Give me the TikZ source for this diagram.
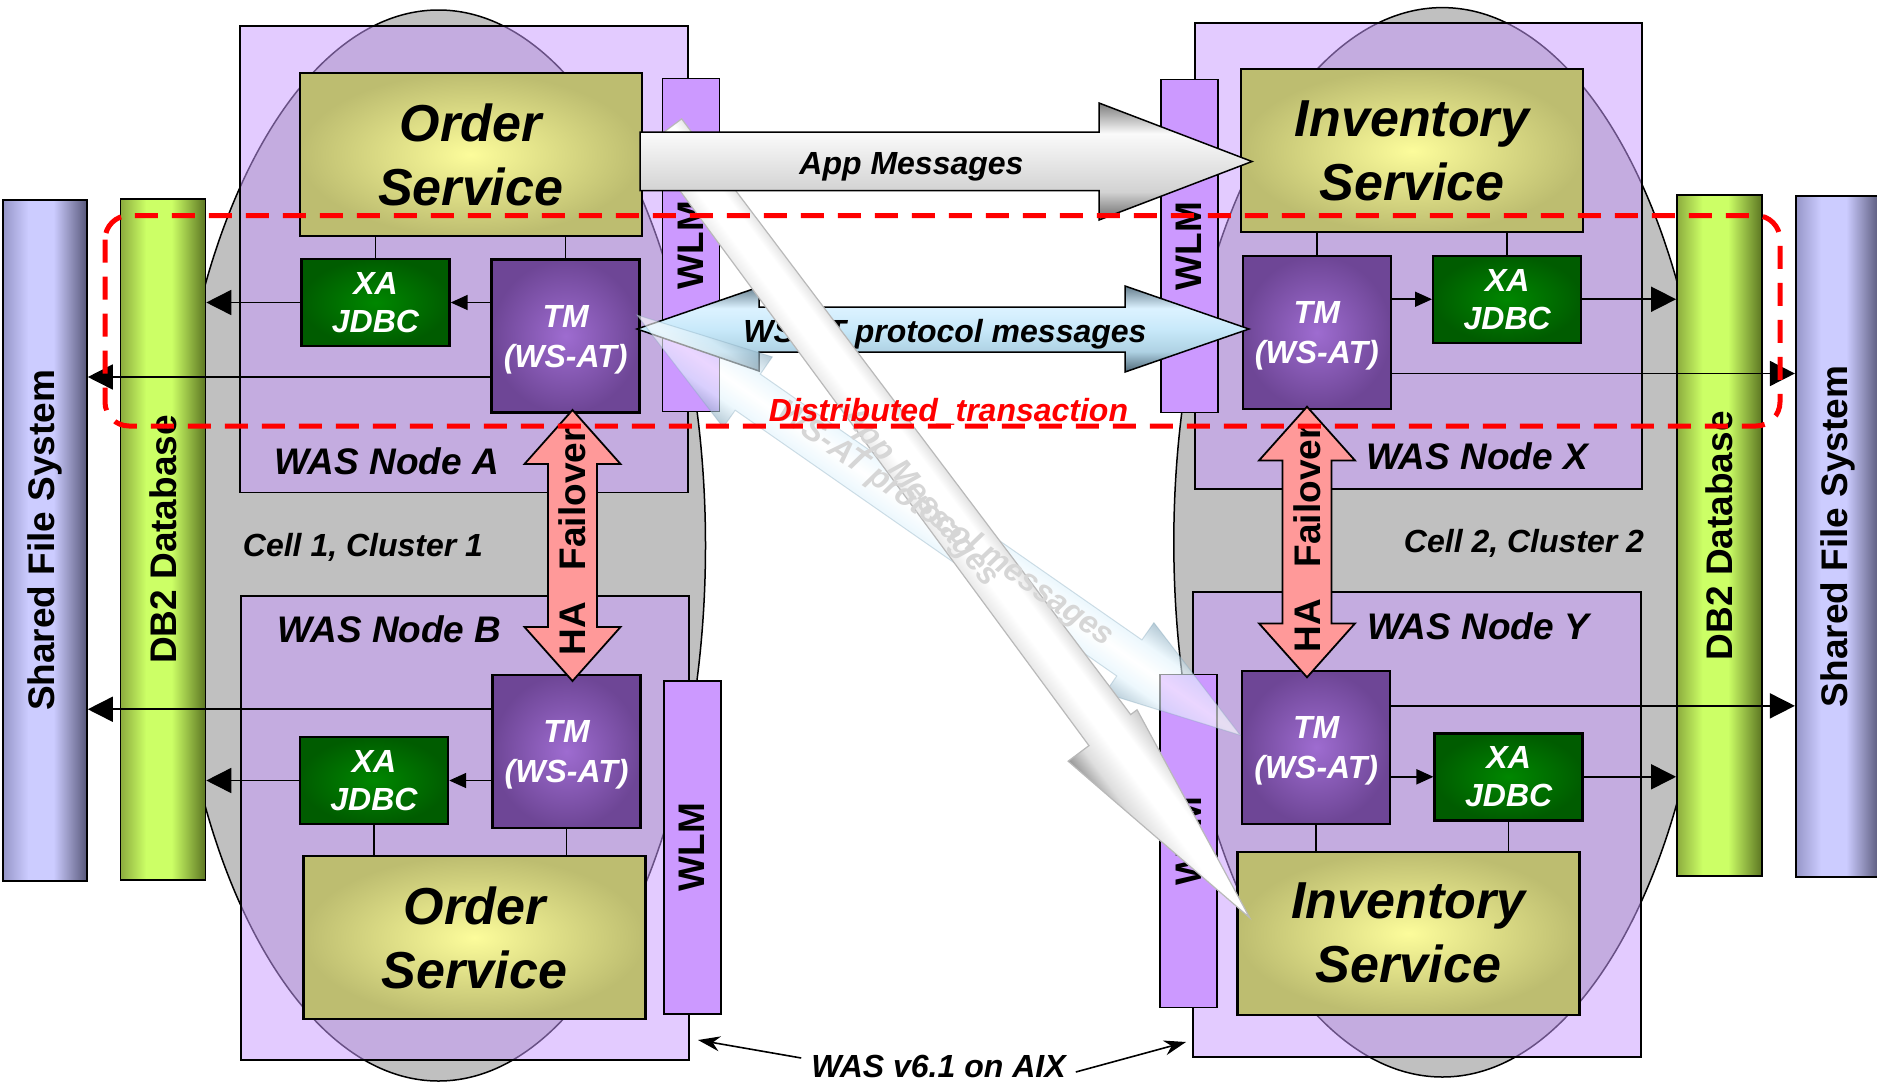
\documentclass[tikz,border=0pt]{standalone}
\usepackage{fontspec}
\setmainfont{Liberation Sans}
\usetikzlibrary{arrows.meta}

% palette
\definecolor{cellgray}{RGB}{192,192,192}
\definecolor{nodelav}{RGB}{201,155,255}
\definecolor{svcin}{RGB}{252,252,155}
\definecolor{svcout}{RGB}{189,189,112}
\definecolor{tmin}{RGB}{158,108,208}
\definecolor{tmout}{RGB}{110,70,150}
\definecolor{xain}{RGB}{0,135,0}
\definecolor{xaout}{RGB}{0,92,0}
\definecolor{wlmfill}{RGB}{204,153,255}
\definecolor{hafill}{RGB}{255,153,153}
\definecolor{dbA}{RGB}{140,172,62}
\definecolor{dbB}{RGB}{204,255,102}
\definecolor{dbC}{RGB}{92,118,34}
\definecolor{fsA}{RGB}{150,150,200}
\definecolor{fsB}{RGB}{204,204,255}
\definecolor{fsC}{RGB}{88,88,122}
\definecolor{apTop}{RGB}{125,125,125}
\definecolor{apBot}{RGB}{105,105,105}
\definecolor{apLow}{RGB}{210,210,210}
\definecolor{apHi}{RGB}{250,250,250}
\definecolor{wsTop}{RGB}{100,125,140}
\definecolor{wsBot}{RGB}{80,105,120}
\definecolor{wsLow}{RGB}{175,210,228}
\definecolor{wsMid}{RGB}{200,233,250}
\definecolor{wsHi}{RGB}{220,242,255}
\definecolor{dgEdge}{RGB}{150,150,150}
\definecolor{dgLow}{RGB}{222,222,222}
\definecolor{dgTop}{RGB}{205,205,205}
\definecolor{fbEdge}{RGB}{130,165,185}
\definecolor{fbMid}{RGB}{225,243,252}

% cylinder and arrow shadings
\pgfdeclarehorizontalshading{dbshade}{100bp}{color(0bp)=(dbA); color(25bp)=(dbA); color(40bp)=(dbB); color(55bp)=(dbB); color(75bp)=(dbC); color(100bp)=(dbC)}
\pgfdeclarehorizontalshading{fsshade}{100bp}{color(0bp)=(fsA); color(25bp)=(fsA); color(40bp)=(fsB); color(55bp)=(fsB); color(75bp)=(fsC); color(100bp)=(fsC)}
\pgfdeclareverticalshading{appshade}{100bp}{color(0bp)=(apBot); color(25bp)=(apBot); color(37bp)=(apLow); color(62bp)=(apHi); color(75bp)=(apTop); color(100bp)=(apTop)}
\pgfdeclareverticalshading{wsshade}{100bp}{color(0bp)=(wsBot); color(25bp)=(wsBot); color(37bp)=(wsLow); color(50bp)=(wsMid); color(62bp)=(wsHi); color(75bp)=(wsTop); color(100bp)=(wsTop)}
\pgfdeclareverticalshading{diagshade}{100bp}{color(0bp)=(dgEdge); color(25bp)=(dgEdge); color(36bp)=(dgLow); color(50bp)=(white); color(62bp)=(white); color(75bp)=(dgTop); color(100bp)=(dgTop)}
\pgfdeclareverticalshading{fadeshade}{100bp}{color(0bp)=(fbEdge); color(25bp)=(fbEdge); color(38bp)=(fbMid); color(50bp)=(white); color(62bp)=(fbMid); color(75bp)=(fbEdge); color(100bp)=(fbEdge)}

\tikzset{
  smalltip/.tip={Triangle[length=17pt,width=15pt]},
  bigtip/.tip={Triangle[length=25pt,width=25pt]},
  wastip/.tip={Stealth[length=22pt,width=15pt]},
}

\begin{document}
\begin{tikzpicture}[x=1pt,y=-1pt,
  container/.style={draw=black,line width=1.8pt,fill=nodelav,fill opacity=0.52,inner sep=0pt},
  svcbox/.style={draw=black,line width=2.4pt,inner color=svcin,outer color=svcout,inner sep=0pt,align=center,minimum width=342pt,minimum height=163pt,font=\bfseries\itshape\fontsize{52}{64}\selectfont},
  tmbox/.style={draw=black,line width=2.4pt,inner color=tmin,outer color=tmout,inner sep=0pt,align=center,text=white,text depth=0pt,minimum width=148pt,minimum height=153pt,font=\bfseries\itshape\fontsize{32}{40}\selectfont},
  xabox/.style={draw=black,line width=2.4pt,inner color=xain,outer color=xaout,inner sep=0pt,align=center,text=white,minimum width=148pt,minimum height=87pt,font=\bfseries\itshape\fontsize{32}{38}\selectfont},
  wlmbar/.style={draw=black,line width=1.8pt,fill=wlmfill,inner sep=0pt,rotate=90,minimum width=333pt,minimum height=57pt,font=\bfseries\fontsize{37}{44}\selectfont},
  dbbar/.style={draw=black,line width=1.6pt,shade,shading=dbshade,inner sep=0pt,minimum width=85pt,minimum height=681pt},
  fsbar/.style={draw=black,line width=1.6pt,shade,shading=fsshade,inner sep=0pt,minimum width=84pt,minimum height=681pt},
  bartext/.style={rotate=90,inner sep=0pt,font=\bfseries\fontsize{37}{44}\selectfont},
  label32/.style={inner sep=0pt,anchor=base,font=\bfseries\itshape\fontsize{32}{38}\selectfont},
  nodelabel/.style={inner sep=0pt,anchor=base,font=\bfseries\itshape\fontsize{37}{44}\selectfont},
  conn/.style={draw=black,line width=1.6pt},
  haarrow/.style={draw=black,line width=1.8pt,fill=hafill},
  hatext/.style={rotate=90,inner sep=0pt,font=\bfseries\fontsize{37}{44}\selectfont},
  fadedtext/.style={inner sep=0pt,text=gray!32,font=\bfseries\itshape\fontsize{32}{38}\selectfont},
]
\useasboundingbox (0,0) rectangle (1877,1087);
\clip (0,0) rectangle (1877,1087);

% cells
\filldraw[fill=cellgray,draw=black,line width=1.5pt] (438.5,545.5) ellipse [x radius=267,y radius=535.5];
\filldraw[fill=cellgray,draw=black,line width=1.5pt] (1442.4,542.3) ellipse [x radius=268.6,y radius=534.7];

% application server nodes
\node[container,minimum width=448pt,minimum height=466.5pt] (nodeA) at (464,259.25) {};
\node[container,minimum width=448pt,minimum height=464pt] (nodeB) at (465,828) {};
\node[container,minimum width=447pt,minimum height=466.4pt] (nodeX) at (1418.5,255.8) {};
\node[container,minimum width=448pt,minimum height=465pt] (nodeY) at (1417,824.5) {};

% shared storage
\node[fsbar] (sfsL) at (45,540.3) {};
\node[bartext] (sfsLtxt) at (sfsL) {Shared File System};
\node[dbbar] (dbL) at (163,539.5) {};
\node[bartext] (dbLtxt) at (dbL) {DB2 Database};
\node[dbbar] (dbR) at (1719.4,535.7) {};
\node[bartext] (dbRtxt) at (dbR) {DB2 Database};
\node[fsbar] (sfsR) at (1837.7,536.5) {};
\node[bartext] (sfsRtxt) at (sfsR) {Shared File System};

% node and cell labels
\node[nodelabel] (labA) at (387,474.5) {WAS Node A};
\node[nodelabel] (labB) at (389.5,642.5) {WAS Node B};
\node[nodelabel] (labX) at (1477,469) {WAS Node X};
\node[nodelabel] (labY) at (1478,639) {WAS Node Y};
\node[label32] (cell1) at (363,556) {Cell 1, Cluster 1};
\node[label32] (cell2) at (1524,552) {Cell 2, Cluster 2};

% services
\node[svcbox] (osA) at (470.75,154.5) {Order\\Service};
\node[svcbox] (osB) at (474.5,937.5) {Order\\Service};
\node[svcbox] (invX) at (1412,150.75) {Inventory\\Service};
\node[svcbox] (invY) at (1408.5,933.25) {Inventory\\Service};

% resource adapters and transaction managers
\node[xabox] (xaA) at (375.5,302.5) {XA\\JDBC};
\node[xabox] (xaB) at (374,780.5) {XA\\JDBC};
\node[xabox] (xaX) at (1507.25,299.25) {XA\\JDBC};
\node[xabox] (xaY) at (1508.65,776.8) {XA\\JDBC};
\node[tmbox] (tmA) at (565.65,336) {TM\\(WS-AT)};
\node[tmbox] (tmB) at (566.55,751.25) {TM\\(WS-AT)};
\node[tmbox] (tmX) at (1316.8,332.5) {TM\\(WS-AT)};
\node[tmbox] (tmY) at (1316.2,747.35) {TM\\(WS-AT)};

% workload management
\node[wlmbar] (wlmA) at (691,245) {WLM};
\node[wlmbar] (wlmB) at (692.15,847.2) {WLM};
\node[wlmbar] (wlmX) at (1189.1,246) {WLM};
\node[wlmbar] (wlmY) at (1188.5,841) {WLM};

% service wiring
\draw[conn] (xaA.north) -- (xaA.north |- osA.south);
\draw[conn] (tmA.north) -- (tmA.north |- osA.south);
\draw[conn] (xaB.south) -- (xaB.south |- osB.north);
\draw[conn] (tmB.south) -- (tmB.south |- osB.north);
\draw[conn] (tmX.north) -- (tmX.north |- invX.south);
\draw[conn] (xaX.north) -- (xaX.north |- invX.south);
\draw[conn] (tmY.south) -- (tmY.south |- invY.north);
\draw[conn] (xaY.south) -- (xaY.south |- invY.north);

% TM -> XA -> DB2, TM -> transaction log
\draw[conn,-smalltip] (tmA.west |- xaA) -- (xaA.east);
\draw[conn,-bigtip] (xaA.west) -- (xaA.west -| dbL.east);
\draw[conn,-bigtip] ([yshift=-41pt]tmA.west) -- ([yshift=-41pt]tmA.west -| sfsL.east);
\draw[conn,-smalltip] (tmB.west |- xaB) -- (xaB.east);
\draw[conn,-bigtip] (xaB.west) -- (xaB.west -| dbL.east);
\draw[conn,-bigtip] ([yshift=42pt]tmB.west) -- ([yshift=42pt]tmB.west -| sfsL.east);
\draw[conn,-smalltip] (tmX.east |- xaX) -- (xaX.west);
\draw[conn,-bigtip] (xaX.east) -- (xaX.east -| dbR.west);
\draw[conn,-bigtip] ([yshift=-41pt]tmX.east) -- ([yshift=-41pt]tmX.east -| sfsR.west);
\draw[conn,-smalltip] (tmY.east |- xaY) -- (xaY.west);
\draw[conn,-bigtip] (xaY.east) -- (xaY.east -| dbR.west);
\draw[conn,-bigtip] ([yshift=41.5pt]tmY.east) -- ([yshift=41.5pt]tmY.east -| sfsR.west);

% HA failover
\draw[haarrow] (572.5,410) -- (620.5,464) -- (597,464) -- (597,627) -- (620.5,627) -- (572.5,681) -- (524.5,627) -- (548,627) -- (548,464) -- (524.5,464) -- cycle;
\node[hatext] (haAtxt) at (572.5,542) {HA\hspace{32pt}Failover};
\draw[haarrow] (1307,406.7) -- (1355,460.5) -- (1331.5,460.5) -- (1331.5,623.4) -- (1355,623.4) -- (1307,677.3) -- (1259,623.4) -- (1282.5,623.4) -- (1282.5,460.5) -- (1259,460.5) -- cycle;
\node[hatext] (haXtxt) at (1307,539) {HA\hspace{32pt}Failover};

% WS-AT protocol arrow
\shadedraw[shading=wsshade,draw=black,line width=1.5pt] (637,329) -- (759,287) -- (759,307) -- (1125,307) -- (1125,286) -- (1249,329) -- (1125,372) -- (1125,352) -- (759,352) -- (759,371) -- cycle;
\node[label32] (wsTxt) at (945,342) {WS-AT protocol messages};

% cross-node paths after failover
\begin{scope}[transform canvas={shift={(637,315)},rotate=-34.86}]
\shadedraw[shading=fadeshade,fill opacity=0.6,draw=fbEdge,draw opacity=0.35,line width=1pt] (0,0) -- (135,-43) -- (135,-22) -- (600,-22) -- (600,-43) -- (735,0) -- (600,43) -- (600,22) -- (135,22) -- (135,43) -- cycle;
\end{scope}
\begin{scope}[transform canvas={shift={(664,132)},rotate=-53.3}]
\shadedraw[shading=diagshade,draw=gray!55,line width=1.2pt] (0,-22) -- (746,-26) -- (746,-34) -- (980,0) -- (746,52) -- (746,26) -- (0,22) -- cycle;
\end{scope}
\node[fadedtext,rotate=-34.9] (wsFade) at (945,525) {WS-AT protocol messages};
\node[fadedtext,rotate=-50] (appFade) at (920,497) {App Messages};

% application message arrow
\shadedraw[shading=appshade,draw=black,line width=1.5pt] (640,132) -- (1099,132) -- (1099,103) -- (1252,161.5) -- (1099,220) -- (1099,190.5) -- (640,190.5) -- cycle;
\node[label32] (appTxt) at (911.5,174) {App Messages};

% distributed transaction scope
\draw[red,line width=5pt,dash pattern=on 23pt off 14pt,rounded corners=24pt] (105,215.5) rectangle (1780,426);
\node[label32,text=red] (dtTxt) at (948.5,421) {Distributed\_transaction};

% platform label
\node[label32] (wasTxt) at (938.5,1077) {WAS v6.1 on AIX};
\coordinate (wasTipL) at (698,1040);
\coordinate (wasTipR) at (1186,1042);
\draw[conn,-wastip] ([shift={(-10,-8)}]wasTxt.west) -- (wasTipL);
\draw[conn,-wastip] ([shift={(10,6)}]wasTxt.east) -- (wasTipR);
\end{tikzpicture}
\end{document}
